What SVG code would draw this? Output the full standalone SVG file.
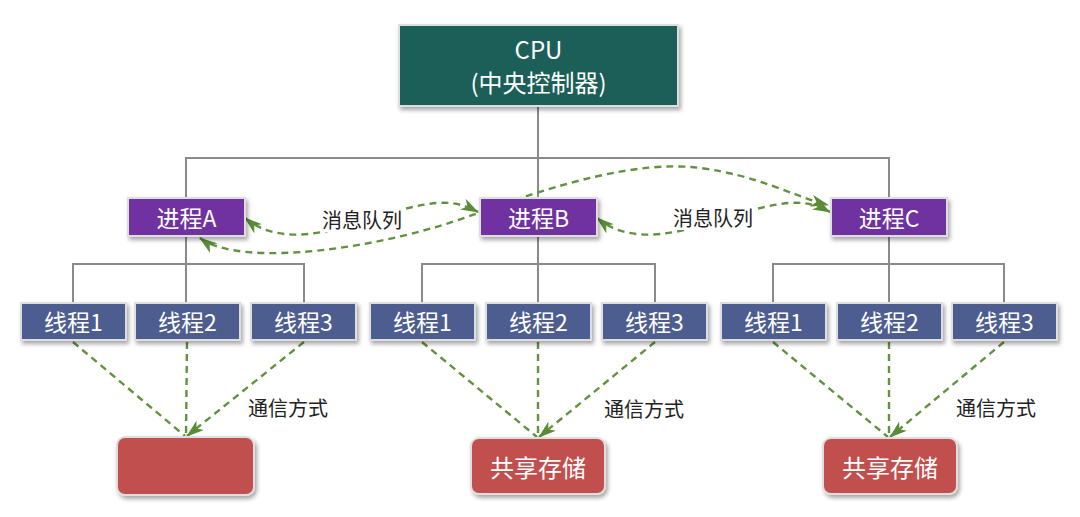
<svg xmlns="http://www.w3.org/2000/svg" width="1080" height="517" viewBox="0 0 1080 517">
<style>
.t{font-family:"Noto Sans CJK SC","Liberation Sans",sans-serif;text-anchor:middle;dominant-baseline:central}
.w{fill:#fff}
.k{fill:#222;font-size:20px}
.tree{fill:none;stroke:#8a8a8a;stroke-width:2}
.dash{fill:none;stroke:#62923f;stroke-width:2.4;stroke-dasharray:7 5}
.box{stroke:#dedede;stroke-width:2;filter:url(#sh)}
.cpu{fill:#1c5f58}
.proc{fill:#7030a0}
.thr{fill:#4e5d8f}
.sto{fill:#c0504d}
</style>
<defs>
<filter id="sh" x="-10%" y="-20%" width="130%" height="160%">
<feDropShadow dx="2" dy="3" stdDeviation="2" flood-color="#000" flood-opacity="0.35"/>
</filter>
<marker id="ah" viewBox="0 0 18 12" refX="17" refY="6" markerWidth="18" markerHeight="12" markerUnits="userSpaceOnUse" orient="auto-start-reverse">
<path d="M0,0 L18,6 L0,12 L5,6 z" fill="#5a8c38"/>
</marker>
</defs>
<rect width="1080" height="517" fill="#fff"/>
<g id="connectors">
<path class="tree" d="M538,106 V198 M186,198 V158 H889 V198"/>
<path class="tree" d="M186,236 V303 M73,303 V264 H304 V303"/>
<path class="tree" d="M538,236 V303 M422,303 V264 H655 V303"/>
<path class="tree" d="M889,236 V303 M773,303 V264 H1004 V303"/>
<path class="dash" marker-start="url(#ah)" marker-end="url(#ah)" d="M200,238 C240,268 380,250 478,213 C560,183 640,160 700,168 C760,176 790,195 828,205"/>
<path class="dash" marker-start="url(#ah)" marker-end="url(#ah)" d="M245,218 C290,255 360,220 400,210 S455,200 478,212"/>
<path class="dash" marker-start="url(#ah)" marker-end="url(#ah)" d="M597,218 C642,255 712,220 752,210 S807,200 830,212"/>
<path class="dash" marker-end="url(#ah)" d="M73,342 L185,436 M187,342 L186,436 M304,342 L187,436"/>
<path class="dash" marker-end="url(#ah)" d="M422,342 L537,437 M538,342 L538,437 M655,342 L539,437"/>
<path class="dash" marker-end="url(#ah)" d="M773,342 L888,437 M889,342 L889,437 M1004,342 L890,437"/>
<rect x="321" y="207" width="82" height="25" fill="#fff"/>
<text class="t k" x="362" y="219">消息队列</text>
<rect x="672" y="205" width="82" height="25" fill="#fff"/>
<text class="t k" x="713" y="217">消息队列</text>
<text class="t k" x="288" y="407">通信方式</text>
<text class="t k" x="644" y="408">通信方式</text>
<text class="t k" x="996" y="407">通信方式</text>
</g>
<g id="cpu">
<rect class="box cpu" x="399" y="25" width="279" height="81"/>
<text class="t w" x="538.5" y="48" font-size="24">CPU</text>
<text class="t w" x="538.5" y="81" font-size="24">(中央控制器)</text>
</g>
<g id="procA"><rect class="box proc" x="128" y="198" width="117" height="38"/><text class="t w" x="186.5" y="217" font-size="23">进程A</text></g>
<g id="procB"><rect class="box proc" x="480" y="198" width="117" height="38"/><text class="t w" x="538.5" y="217" font-size="23">进程B</text></g>
<g id="procC"><rect class="box proc" x="831" y="198" width="116" height="38"/><text class="t w" x="889" y="217" font-size="23">进程C</text></g>
<g id="a1"><rect class="box thr" x="21" y="303" width="105" height="37"/><text class="t w" x="73.5" y="321" font-size="23">线程1</text></g>
<g id="a2"><rect class="box thr" x="135" y="303" width="105" height="37"/><text class="t w" x="187.5" y="321" font-size="23">线程2</text></g>
<g id="a3"><rect class="box thr" x="251" y="303" width="105" height="37"/><text class="t w" x="303.5" y="321" font-size="23">线程3</text></g>
<g id="b1"><rect class="box thr" x="370" y="303" width="105" height="37"/><text class="t w" x="422.5" y="321" font-size="23">线程1</text></g>
<g id="b2"><rect class="box thr" x="486" y="303" width="105" height="37"/><text class="t w" x="538.5" y="321" font-size="23">线程2</text></g>
<g id="b3"><rect class="box thr" x="602" y="303" width="105" height="37"/><text class="t w" x="654.5" y="321" font-size="23">线程3</text></g>
<g id="c1"><rect class="box thr" x="721" y="303" width="105" height="37"/><text class="t w" x="773.5" y="321" font-size="23">线程1</text></g>
<g id="c2"><rect class="box thr" x="837" y="303" width="105" height="37"/><text class="t w" x="889.5" y="321" font-size="23">线程2</text></g>
<g id="c3"><rect class="box thr" x="952" y="303" width="105" height="37"/><text class="t w" x="1004.5" y="321" font-size="23">线程3</text></g>
<g id="storeA"><rect class="box sto" x="117" y="437" width="137" height="58" rx="8"/></g>
<g id="storeB"><rect class="box sto" x="471" y="438" width="134" height="56" rx="8"/><text class="t w" x="538" y="466" font-size="24">共享存储</text></g>
<g id="storeC"><rect class="box sto" x="823" y="438" width="134" height="56" rx="8"/><text class="t w" x="890" y="466" font-size="24">共享存储</text></g>
</svg>
